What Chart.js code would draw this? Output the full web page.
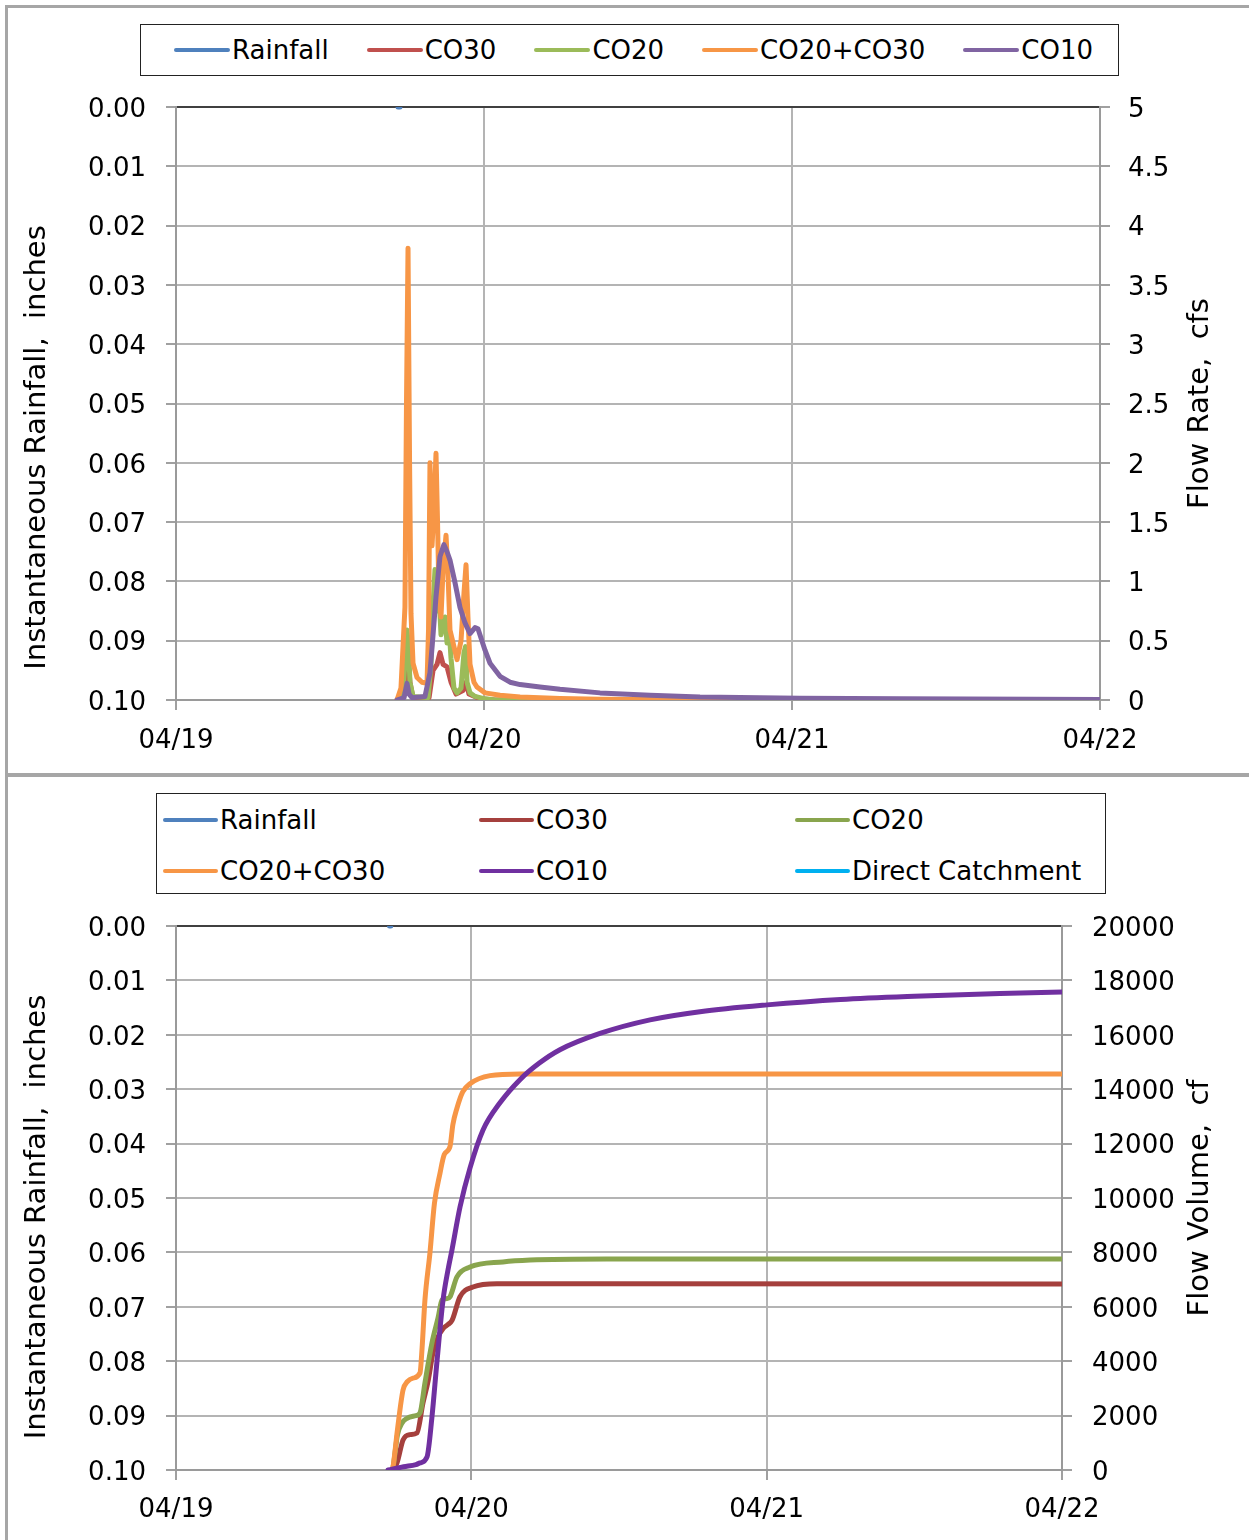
<!DOCTYPE html>
<html>
<head>
<meta charset="utf-8">
<script src="https://cdn.jsdelivr.net/npm/chart.js@4.4.1/dist/chart.umd.min.js"></script>
<style>
  body { margin: 0; width: 1249px; height: 1540px; background: #fff; position: relative; overflow: hidden; font-family: 'DejaVu Sans', sans-serif; }
  canvas { position: absolute; left: 0; }
  .frame { position: absolute; background: #a6a6a6; }
  .legend { position: absolute; box-sizing: border-box; border: 1px solid #222; background: #fff; font-size: 26px; color: #000; }
  .legend .item { display: flex; align-items: center; white-space: nowrap; }
  .legend .swatch { display: inline-block; height: 4px; border-radius: 2px; margin-right: 2px; }
  #rateLegend { left: 140px; top: 24px; width: 979px; height: 52px; display: flex; align-items: center; justify-content: space-between; padding: 0 25px 0 33px; }
  #rateLegend .swatch { width: 56px; }
  #volumeLegend { left: 156px; top: 793px; width: 950px; height: 101px; display: grid; grid-template-columns: 316px 316px 1fr; grid-auto-rows: 51px; align-items: center; padding-left: 6px; }
  #volumeLegend .swatch { width: 55px; }
</style>
</head>
<body>
<canvas id="rateChart" width="1249" height="775" style="top:0"></canvas>
<canvas id="volumeChart" width="1249" height="763" style="top:777px"></canvas>
<div class="frame" style="left:5px;top:5px;width:3px;height:1535px"></div>
<div class="frame" style="left:5px;top:5px;width:1244px;height:3px"></div>
<div class="frame" style="left:5px;top:773px;width:1244px;height:4px"></div>
<div id="rateLegend" class="legend"></div>
<div id="volumeLegend" class="legend"></div>
<script>
// x axis: hours after 04/19 00:00
const dayLabels = ['04/19', '04/20', '04/21', '04/22'];

// ---- top chart: flow rate, cfs ----
const rainHours = [17.3, 17.45];
const rainValues = [0, 0];

const rateHoursCO30 = [17.22, 17.84, 18.08, 18.23, 18.47, 19.72, 20.03, 20.34, 20.57, 20.81, 21.12, 21.43, 21.82, 22.36, 22.6, 22.83, 23.69, 24.86, 72];
const rateCO30 = [0, 0.1, 0.34, 0.15, 0.02, 0.02, 0.25, 0.3, 0.4, 0.3, 0.28, 0.15, 0.05, 0.08, 0.15, 0.05, 0.01, 0, 0];

const rateHoursCO20 = [17.22, 17.69, 17.88, 18.0, 18.12, 18.23, 18.47, 19.64, 19.87, 20.03, 20.18, 20.34, 20.49, 20.65, 20.81, 20.96, 21.12, 21.27, 21.43, 21.66, 21.9, 22.21, 22.44, 22.56, 22.68, 22.91, 23.3, 24.08, 24.86, 72];
const rateCO20 = [0, 0.05, 0.4, 0.59, 0.45, 0.15, 0.03, 0.02, 0.3, 0.8, 1.1, 0.75, 0.9, 0.55, 0.65, 0.7, 0.48, 0.62, 0.35, 0.1, 0.06, 0.1, 0.4, 0.45, 0.15, 0.06, 0.03, 0.01, 0, 0];

const rateHoursSum = [17.22, 17.53, 17.84, 17.96, 18.08, 18.2, 18.31, 18.47, 18.78, 19.17, 19.56, 19.68, 19.79, 19.95, 20.1, 20.26, 20.38, 20.49, 20.65, 20.81, 21.04, 21.2, 21.35, 21.66, 21.9, 22.21, 22.44, 22.6, 22.75, 22.91, 23.22, 23.45, 24.08, 25.25, 26.81, 29.92, 33.04, 40.83, 72];
const rateSum = [0, 0.1, 0.78, 2.5, 3.81, 2.0, 0.73, 0.31, 0.19, 0.15, 0.14, 0.6, 2.0, 1.3, 1.6, 2.08, 1.5, 0.9, 0.7, 1.1, 1.39, 1.05, 0.59, 0.45, 0.34, 0.5, 0.9, 1.14, 0.7, 0.3, 0.15, 0.11, 0.06, 0.04, 0.025, 0.012, 0.006, 0.003, 0];

const rateHoursCO10 = [17.22, 17.77, 18.0, 18.16, 18.39, 19.4, 19.79, 20.03, 20.26, 20.57, 20.88, 21.12, 21.35, 21.74, 22.13, 22.52, 22.91, 23.3, 23.53, 24.08, 24.47, 25.25, 26.03, 26.81, 28.36, 29.92, 33.04, 36.94, 40.83, 48.62, 56.42, 72];
const rateCO10 = [0, 0.02, 0.14, 0.05, 0.02, 0.03, 0.23, 0.55, 0.87, 1.21, 1.31, 1.25, 1.18, 0.99, 0.78, 0.65, 0.56, 0.61, 0.6, 0.42, 0.31, 0.2, 0.15, 0.13, 0.11, 0.09, 0.06, 0.04, 0.025, 0.015, 0.01, 0.005];

// ---- bottom chart: cumulative flow volume, cf ----
const volRainHours = [17.35, 17.45];
const volRainValues = [0, 0];

const volHoursCO30 = [17.63, 17.96, 18.45, 19.0, 19.58, 20.07, 20.5, 20.88, 21.3, 21.7, 22.1, 22.43, 23.08, 24.13, 26.08, 72];
const volCO30 = [0, 260, 1100, 1300, 1360, 2460, 3300, 4300, 4900, 5200, 5350, 5500, 6370, 6730, 6850, 6840];

const volHoursCO20 = [17.55, 17.63, 18.0, 18.37, 18.77, 19.5, 19.83, 20.23, 20.8, 21.3, 21.62, 22.0, 22.27, 22.83, 23.89, 26.57, 28.77, 35, 72];
const volCO20 = [0, 80, 1300, 1730, 1900, 2000, 2100, 3200, 4670, 5600, 6250, 6300, 6370, 7100, 7460, 7650, 7720, 7760, 7760];

const volHoursSum = [17.55, 17.63, 18.0, 18.45, 18.8, 19.26, 19.83, 20.0, 20.23, 20.64, 21.0, 21.45, 21.8, 22.27, 22.5, 22.83, 23.3, 23.89, 25.52, 27.95, 35, 72];
const volSum = [0, 100, 1500, 2940, 3250, 3380, 3570, 4500, 6250, 8000, 9800, 10900, 11600, 11900, 12700, 13300, 13900, 14200, 14500, 14560, 14560, 14560];

const volHoursCO10 = [17.23, 18.5, 19.5, 19.83, 20.4, 20.8, 21.21, 21.7, 22.1, 22.43, 23.08, 23.89, 24.95, 26.33, 27.95, 29.5, 31.2, 34.45, 38.52, 42.58, 48.03, 54, 60, 66.96, 72];
const volCO10 = [0, 120, 200, 260, 480, 1950, 4000, 6250, 7350, 8100, 9670, 11100, 12500, 13500, 14350, 14950, 15450, 16050, 16550, 16850, 17100, 17300, 17420, 17520, 17570];

const volHoursDirect = [];
const volDirect = [];

const zip = (xs, ys) => xs.map((x, i) => ({ x: x, y: ys[i] }));

Chart.defaults.font.family = "'DejaVu Sans', sans-serif";
Chart.defaults.font.size = 26;
Chart.defaults.color = '#000';

const gridColor = '#b4b4b4';
const tickColor = '#a0a0a0';
const axisColor = '#9a9a9a';

// rotated axis titles drawn by hand so both read bottom-to-top like the original
const sideTitles = {
  id: 'sideTitles',
  afterDraw(chart, args, opts) {
    const { ctx, chartArea } = chart;
    const mid = (chartArea.top + chartArea.bottom) / 2;
    ctx.save();
    ctx.font = "29px 'DejaVu Sans', sans-serif";
    ctx.fillStyle = '#000';
    ctx.textAlign = 'center';
    ctx.textBaseline = 'middle';
    for (const t of opts.items || []) {
      ctx.save();
      ctx.translate(t.x, mid + (t.dy || 0));
      ctx.rotate(-Math.PI / 2);
      ctx.fillText(t.text, 0, 0);
      ctx.restore();
    }
    ctx.restore();
  }
};

function makeOptions(p) {
  return {
    responsive: false,
    animation: false,
    devicePixelRatio: 1,
    layout: { padding: { top: p.plotTop, left: 0, right: 0, bottom: 0 } },
    plugins: {
      legend: { display: false },
      tooltip: { enabled: false },
      sideTitles: { items: p.titles }
    },
    elements: { point: { radius: 0 }, line: { borderCapStyle: 'round', borderJoinStyle: 'round' } },
    scales: {
      x: {
        type: 'linear', min: 0, max: 72,
        afterFit: s => { s.height = p.xHeight; },
        ticks: { stepSize: 24, autoSkip: false, maxRotation: 0, padding: p.xPad,
          callback: v => dayLabels[Math.round(v / 24)] || '' },
        grid: { color: gridColor, lineWidth: 2, tickLength: 10, tickColor: tickColor },
        border: { color: axisColor, width: 2 }
      },
      y: {
        position: 'left', reverse: true, min: 0, max: 0.1,
        afterFit: s => { s.width = 176; },
        ticks: { stepSize: 0.01, padding: 20, labelOffset: 3, callback: v => v.toFixed(2) },
        grid: { color: c => (c.tick && c.tick.value === 0) ? '#404040' : gridColor, lineWidth: 2, tickLength: 10, tickColor: tickColor },
        border: { color: axisColor, width: 2 }
      },
      y1: {
        position: 'right', min: 0, max: p.rightMax,
        afterFit: s => { s.width = 1249 - p.plotRight; },
        ticks: { stepSize: p.rightStep, padding: p.rightPad, labelOffset: 3, callback: v => String(v) },
        grid: { drawOnChartArea: false, lineWidth: 2, tickLength: 10, tickColor: tickColor },
        border: { color: axisColor, width: 2 }
      }
    }
  };
}

function lineSet(label, color, xs, ys, order, axis, smooth) {
  return {
    label: label, data: zip(xs, ys), borderColor: color, backgroundColor: color,
    borderWidth: 5, yAxisID: axis || 'y1', order: order,
    tension: 0, cubicInterpolationMode: smooth ? 'monotone' : 'default'
  };
}

function buildLegend(el, chart) {
  chart.data.datasets.forEach(ds => {
    const item = document.createElement('div');
    item.className = 'item';
    const sw = document.createElement('span');
    sw.className = 'swatch';
    sw.style.background = ds.borderColor;
    const txt = document.createElement('span');
    txt.textContent = ds.label;
    item.append(sw, txt);
    el.append(item);
  });
}

const rateChart = new Chart(document.getElementById('rateChart'), {
  type: 'line',
  data: {
    datasets: [
      lineSet('Rainfall', '#4f81bd', rainHours, rainValues, 5, 'y'),
      lineSet('CO30', '#c0504d', rateHoursCO30, rateCO30, 4),
      lineSet('CO20', '#9bbb59', rateHoursCO20, rateCO20, 3),
      lineSet('CO20+CO30', '#f79646', rateHoursSum, rateSum, 2),
      lineSet('CO10', '#8064a2', rateHoursCO10, rateCO10, 1)
    ]
  },
  options: makeOptions({
    plotTop: 107, xHeight: 75, xPad: 16, plotRight: 1100, rightMax: 5, rightStep: 0.5, rightPad: 18,
    titles: [
      { text: 'Instantaneous Rainfall,  inches', x: 37, dy: 44 },
      { text: 'Flow Rate,  cfs', x: 1200, dy: 0 }
    ]
  }),
  plugins: [sideTitles]
});

const volumeChart = new Chart(document.getElementById('volumeChart'), {
  type: 'line',
  data: {
    datasets: [
      lineSet('Rainfall', '#4f81bd', volRainHours, volRainValues, 6, 'y', true),
      lineSet('CO30', '#a5403d', volHoursCO30, volCO30, 5, 'y1', true),
      lineSet('CO20', '#89a54e', volHoursCO20, volCO20, 4, 'y1', true),
      lineSet('CO20+CO30', '#f79646', volHoursSum, volSum, 3, 'y1', true),
      lineSet('CO10', '#7030a0', volHoursCO10, volCO10, 2, 'y1', true),
      lineSet('Direct Catchment', '#00b0f0', volHoursDirect, volDirect, 1, 'y1', true)
    ]
  },
  options: makeOptions({
    plotTop: 149, xHeight: 70, xPad: 15, plotRight: 1062, rightMax: 20000, rightStep: 2000, rightPad: 20,
    titles: [
      { text: 'Instantaneous Rainfall,  inches', x: 37, dy: 19 },
      { text: 'Flow Volume,  cf', x: 1200, dy: 0 }
    ]
  }),
  plugins: [sideTitles]
});

buildLegend(document.getElementById('rateLegend'), rateChart);
buildLegend(document.getElementById('volumeLegend'), volumeChart);
</script>
</body>
</html>
